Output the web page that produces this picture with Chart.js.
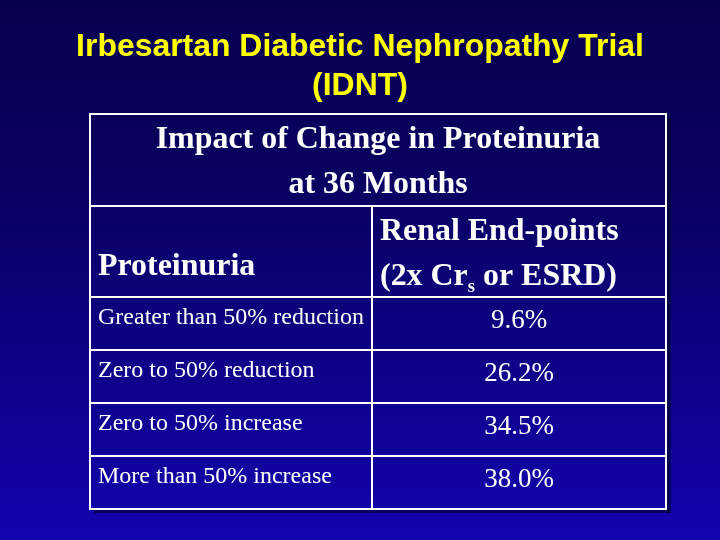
<!DOCTYPE html>
<html>
<head>
<meta charset="utf-8">
<script src="https://cdn.jsdelivr.net/npm/chart.js@4"></script>
<style>
	html, body { margin: 0; padding: 0; background: #0a0060; }
	#wrap { width: 720px; height: 540px; position: relative; }
</style>
</head>
<body>
<div id="wrap"><canvas id="Chart"></canvas></div>
<script>
// slide texts
var titleLines = ["Irbesartan Diabetic Nephropathy Trial", "(IDNT)"];
var headTitle = ["Impact of Change in Proteinuria", "at 36 Months"];
var colHeads = ["Proteinuria", "Renal End-points"];

// table rows
var categories = ["Greater than 50% reduction", "Zero to 50% reduction", "Zero to 50% increase", "More than 50% increase"];
var endpoints = [9.6, 26.2, 34.5, 38.0];

var SERIF = "'Liberation Serif', 'Times New Roman', serif";
var SANS = "'Liberation Sans', Arial, sans-serif";

// draw a string stretched horizontally like the projected slide
function stretched(ctx, text, x, y, sx, align)
{
	var w = ctx.measureText(text).width * sx;
	var left = align === "center" ? x - w / 2 : x;
	ctx.save();
	ctx.translate(left, y);
	ctx.scale(sx, 1);
	ctx.textAlign = "left";
	ctx.fillText(text, 0, 0);
	ctx.restore();
	return left + w;
}

var backdrop = {
	id: "backdrop",
	beforeDraw: function (chart)
	{
		var ctx = chart.ctx;
		var g = ctx.createLinearGradient(0, 0, 0, chart.height);
		g.addColorStop(0, "#08004f");
		g.addColorStop(0.35, "#0a0062");
		g.addColorStop(1, "#1204ae");
		ctx.save();
		ctx.fillStyle = g;
		ctx.fillRect(0, 0, chart.width, chart.height);

		ctx.fillStyle = "#ffff00";
		ctx.font = "bold 31px " + SANS;
		ctx.textBaseline = "alphabetic";
		stretched(ctx, titleLines[0], 360, 56, 1.03, "center");
		stretched(ctx, titleLines[1], 360, 95, 1.03, "center");
		ctx.restore();
	}
};

var table = {
	id: "table",
	afterDraw: function (chart)
	{
		var ctx = chart.ctx;
		var a = chart.chartArea;
		var y = chart.scales.y;
		var left = a.left, right = a.right;
		var top = a.top - 183;
		var split = a.top - 91;
		var colX = left + Math.round((right - left) * 0.49);
		var band = (a.bottom - a.top) / categories.length;

		ctx.save();
		// shadow of the box
		ctx.fillStyle = "rgba(0,0,30,0.55)";
		ctx.fillRect(right + 1, top + 4, 4, a.bottom - top);
		ctx.fillRect(left + 4, a.bottom + 1, right - left, 3);

		ctx.strokeStyle = "#ffffff";
		ctx.lineWidth = 2;
		ctx.strokeRect(left, top, right - left, a.bottom - top);
		ctx.beginPath();
		ctx.moveTo(left, split); ctx.lineTo(right, split);
		ctx.moveTo(left, a.top); ctx.lineTo(right, a.top);
		ctx.moveTo(colX, split); ctx.lineTo(colX, a.bottom);
		categories.forEach(function (c, i)
		{
			if (i === 0) return;
			var yy = y.getPixelForValue(i) - band / 2;
			ctx.moveTo(left, yy); ctx.lineTo(right, yy);
		});
		ctx.stroke();

		ctx.fillStyle = "#ffffff";
		ctx.textBaseline = "alphabetic";
		var mid = (left + right) / 2;
		var hs = 1.03;
		ctx.font = "bold 31px " + SERIF;
		stretched(ctx, headTitle[0], mid, top + 34, hs, "center");
		stretched(ctx, headTitle[1], mid, top + 79, hs, "center");

		stretched(ctx, colHeads[0], left + 8, a.top - 22, hs, "left");
		stretched(ctx, colHeads[1], colX + 8, a.top - 57, hs, "left");
		var x = stretched(ctx, "(2x Cr", colX + 8, a.top - 12, hs, "left");
		ctx.font = "bold 18px " + SERIF;
		x = stretched(ctx, "s", x, a.top - 5, hs, "left");
		ctx.font = "bold 31px " + SERIF;
		stretched(ctx, " or ESRD)", x, a.top - 12, hs, "left");

		var vx = (colX + right) / 2;
		categories.forEach(function (c, i)
		{
			var cy = y.getPixelForValue(i) - band / 2;
			ctx.font = "24px " + SERIF;
			stretched(ctx, c, left + 8, cy + 27, 1.0, "left");
			ctx.font = "27px " + SERIF;
			stretched(ctx, endpoints[i].toFixed(1) + "%", vx, cy + 31, 1.0, "center");
		});
		ctx.restore();
	}
};

var chart = new Chart(document.getElementById("Chart"), {
	type: "bar",
	data: {
		labels: categories,
		datasets: [{
			label: "Renal End-points",
			data: endpoints,
			backgroundColor: "rgba(0,0,0,0)",
			borderWidth: 0
		}]
	},
	options: {
		indexAxis: "y",
		responsive: true,
		maintainAspectRatio: false,
		animation: false,
		layout: { padding: { left: 90, right: 54, top: 297, bottom: 31 } },
		scales: {
			x: { display: false, min: 0, max: 40 },
			y: { display: false }
		},
		plugins: {
			legend: { display: false },
			title: { display: false },
			tooltip: { enabled: false }
		}
	},
	plugins: [backdrop, table]
});
</script>
</body>
</html>
